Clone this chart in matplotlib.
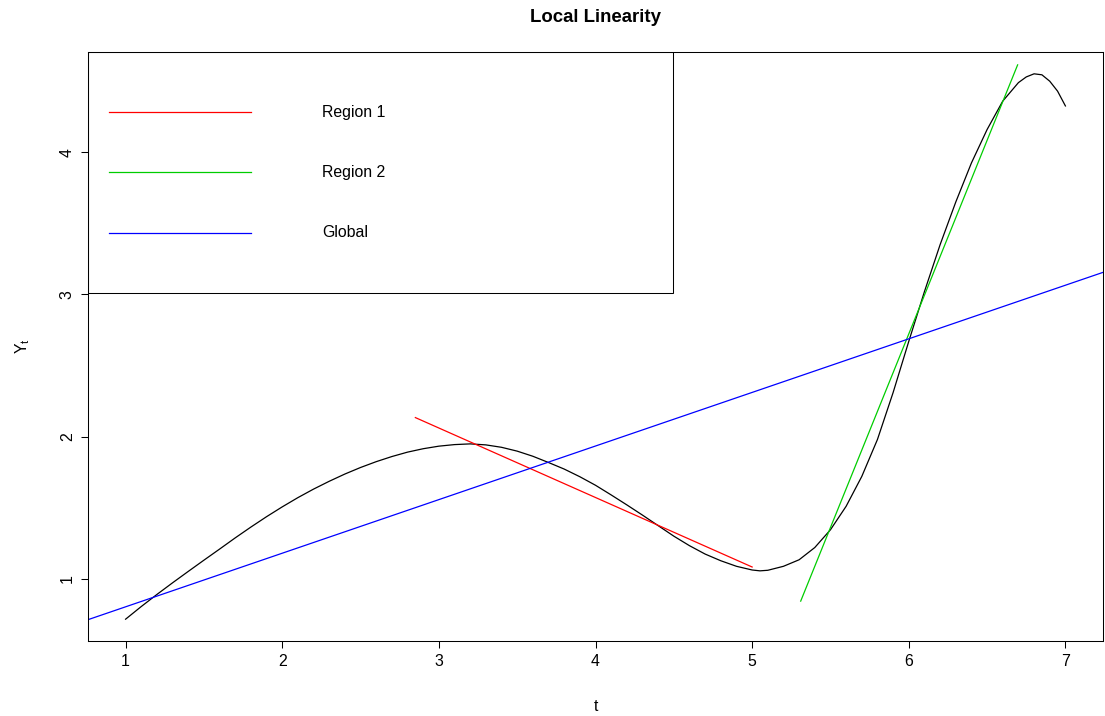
import numpy as np
import matplotlib
matplotlib.use("Agg")
import matplotlib.pyplot as plt
from matplotlib.patches import Rectangle

plt.rcParams['font.family'] = ['Liberation Sans', 'DejaVu Sans']
plt.rcParams['mathtext.fontset'] = 'custom'
plt.rcParams['mathtext.rm'] = 'Liberation Sans'
plt.rcParams['mathtext.it'] = 'Liberation Sans'

# curve
t_curve = [1.0, 1.1, 1.2, 1.3, 1.4, 1.5, 1.6, 1.7, 1.8, 1.9,
           2.0, 2.1, 2.2, 2.3, 2.4, 2.5, 2.6, 2.7, 2.8, 2.9,
           3.0, 3.1, 3.2, 3.3, 3.4, 3.5, 3.6, 3.7, 3.8, 3.9,
           4.0, 4.1, 4.2, 4.3, 4.4, 4.5, 4.6, 4.7, 4.8, 4.9,
           5.0, 5.05, 5.1, 5.2, 5.3, 5.4, 5.5, 5.6, 5.7, 5.8, 5.9,
           6.0, 6.1, 6.2, 6.3, 6.4, 6.5, 6.6, 6.7, 6.75, 6.8, 6.85,
           6.9, 6.95, 7.0]
y_curve = [0.716, 0.805, 0.890, 0.972, 1.052, 1.131, 1.209, 1.288, 1.364, 1.437,
           1.506, 1.571, 1.631, 1.686, 1.737, 1.783, 1.824, 1.860, 1.891, 1.915,
           1.933, 1.944, 1.949, 1.942, 1.925, 1.898, 1.862, 1.818, 1.772, 1.718,
           1.658, 1.590, 1.520, 1.448, 1.374, 1.300, 1.233, 1.174, 1.127, 1.088,
           1.062, 1.056, 1.060, 1.088, 1.134, 1.220, 1.345, 1.510, 1.720, 1.980, 2.310,
           2.670, 3.020, 3.350, 3.650, 3.925, 4.160, 4.360, 4.490, 4.530, 4.552, 4.545,
           4.500, 4.430, 4.326]

# local fits
region1_t = [2.85, 5.00]
region1_y = [2.134, 1.083]
region2_t = [5.31, 6.695]
region2_y = [0.843, 4.615]
# global fit: intercept, slope
global_a, global_b = 0.426, 0.377

legend_labels = ["Region 1", "Region 2", "Global"]
legend_colors = ["#FF0000", "#00CD00", "#0000FF"]

fig = plt.figure(figsize=(11.05, 7.16), dpi=100)
ax = fig.add_axes([88/1105, 75/716, 1015/1105, 589/716])

ax.plot(t_curve, y_curve, color='black', lw=0.9)
ax.plot(region1_t, region1_y, color=legend_colors[0], lw=0.9)
ax.plot(region2_t, region2_y, color=legend_colors[1], lw=0.9)
ax.axline((0, global_a), slope=global_b, color=legend_colors[2], lw=0.9)

# R style limits (4% padding)
xr = max(t_curve) - min(t_curve)
yr = max(y_curve) - min(y_curve)
ax.set_xlim(min(t_curve) - 0.04*xr, max(t_curve) + 0.04*xr)
ax.set_ylim(min(y_curve) - 0.04*yr, max(y_curve) + 0.04*yr)

ax.set_xticks([1, 2, 3, 4, 5, 6, 7])
ax.set_yticks([1, 2, 3, 4])
ax.tick_params(length=5, width=0.75, pad=4.5, labelsize=11.4)
for lab in ax.get_yticklabels():
    lab.set_rotation(90)
    lab.set_va('center')
for sp in ax.spines.values():
    sp.set_linewidth(0.75)

ax.set_xlabel("t", fontsize=11.4, labelpad=21.5)
ax.set_ylabel(r"$\mathrm{Y}_{\mathrm{t}}$", fontsize=11.4, labelpad=20)
ax.set_title("Local Linearity", fontsize=13.4, fontweight='bold', pad=21.5)

# legend drawn R style
ax.add_patch(Rectangle((0, 0.5908), 0.5764, 0.4092, transform=ax.transAxes,
                       fill=False, edgecolor='black', lw=0.75, zorder=5))
rows = [0.898, 0.796, 0.693]
for lab, col, yy in zip(legend_labels, legend_colors, rows):
    ax.plot([0.0207, 0.1606], [yy, yy], transform=ax.transAxes, color=col, lw=0.9)
    ax.text(0.2305, yy, lab, transform=ax.transAxes, fontsize=11.4, va='center', ha='left')

fig.savefig("out.png", dpi=100)
